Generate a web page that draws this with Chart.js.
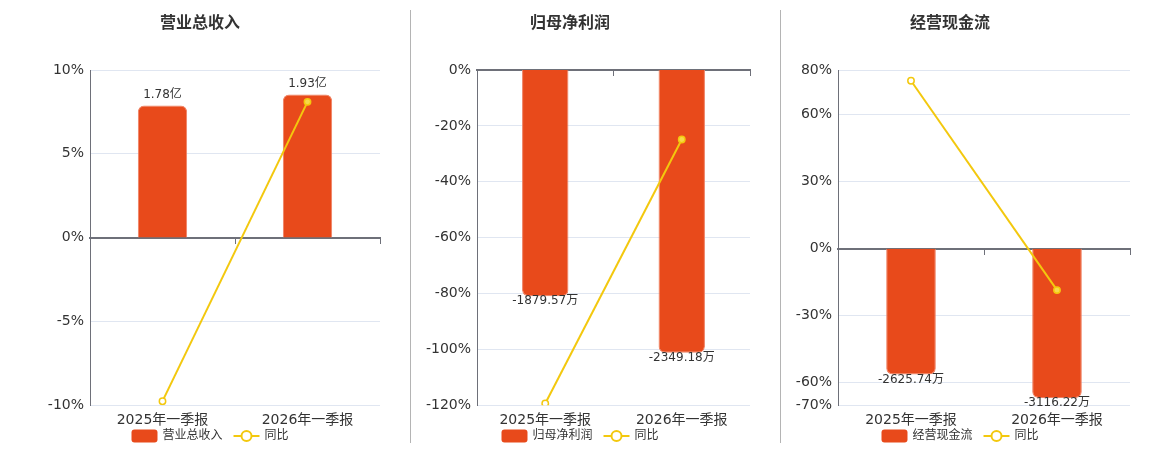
<!DOCTYPE html>
<html>
<head>
<meta charset="utf-8">
<script src="https://cdn.jsdelivr.net/npm/chart.js@4.4.1/dist/chart.umd.min.js"></script>
<style>
  body { margin: 0; background: #fff; width: 1160px; height: 450px; position: relative; overflow: hidden; }
  canvas { position: absolute; top: 0; }
  .sep { position: absolute; top: 10px; width: 1px; height: 433px; background: #b4b4b4; }
</style>
</head>
<body>
<canvas id="revenue" width="380" height="450" style="left:20px"></canvas>
<canvas id="profit" width="380" height="450" style="left:390px"></canvas>
<canvas id="cash" width="380" height="450" style="left:770px"></canvas>
<div class="sep" style="left:410px"></div>
<div class="sep" style="left:780px"></div>
<script>
// data
const periods = ['2025年一季报', '2026年一季报'];

const revenueValues = [1.78, 1.93];          // 亿
const revenueYoy = [-9.76, 8.1];              // %
const revenueTicks = [-10, -5, 0, 5, 10];

const profitValues = [-1879.57, -2349.18];   // 万
const profitYoy = [-119.4, -24.9];
const profitTicks = [-120, -100, -80, -60, -40, -20, 0];

const cashValues = [-2625.74, -3116.22];     // 万
const cashYoy = [75.2, -18.5];
const cashTicks = [80, 60, 30, 0, -30, -60, -70];

// hidden bar axis ranges, zero lined up with the % axis
const revenueBarRange = [-2.26, 2.26];
const profitBarRange = [-2786, 0];
const cashBarRange = [-3265, 3731];

const barColor = '#E84A1B';
const lineColor = '#F3C80E';
const textColor = '#333';
const axisColor = '#6E7079';
const gridColor = '#E0E6F1';
const fontFamily = '"DejaVu Sans", "Noto Sans CJK SC", sans-serif';

Chart.defaults.font.family = fontFamily;
Chart.defaults.color = textColor;

// value labels on the bars
const barLabels = {
  id: 'barLabels',
  afterDatasetsDraw(chart, args, opts) {
    const meta = chart.getDatasetMeta(0);
    const vals = chart.data.datasets[0].data;
    const ctx = chart.ctx;
    ctx.save();
    ctx.font = '12px ' + fontFamily;
    ctx.fillStyle = textColor;
    ctx.textAlign = 'center';
    ctx.textBaseline = 'middle';
    meta.data.forEach((bar, i) => {
      const txt = vals[i].toFixed(2) + opts.unit;
      if (vals[i] >= 0) ctx.fillText(txt, bar.x, bar.y - 11);
      else ctx.fillText(txt, bar.x, bar.y + 5);
    });
    ctx.restore();
  }
};

// legend under the axis: bar box + line with hollow dot
const bottomLegend = {
  id: 'bottomLegend',
  afterDraw(chart) {
    const ctx = chart.ctx;
    const names = chart.data.datasets.map(d => d.label);
    ctx.save();
    ctx.font = '12px ' + fontFamily;
    const w0 = ctx.measureText(names[0]).width;
    const w1 = ctx.measureText(names[1]).width;
    const total = 26 + 5 + w0 + 11 + 26 + 5 + w1;
    let x = chart.width / 2 - total / 2;
    const y = 436;
    ctx.fillStyle = barColor;
    ctx.beginPath();
    ctx.roundRect(x, y - 6.5, 26, 13, 3);
    ctx.fill();
    x += 31;
    ctx.fillStyle = textColor;
    ctx.textBaseline = 'middle';
    ctx.textAlign = 'left';
    ctx.fillText(names[0], x, y);
    x += w0 + 11;
    ctx.strokeStyle = lineColor;
    ctx.lineWidth = 2;
    ctx.beginPath();
    ctx.moveTo(x, y); ctx.lineTo(x + 26, y);
    ctx.stroke();
    ctx.beginPath();
    ctx.arc(x + 13, y, 5, 0, Math.PI * 2);
    ctx.fillStyle = '#fff';
    ctx.fill();
    ctx.stroke();
    x += 31;
    ctx.fillStyle = textColor;
    ctx.fillText(names[1], x, y);
    ctx.restore();
  }
};

function makePanel(id, title, values, yoy, ticks, barRange, unit, axisWidth) {
  const lo = Math.min(...ticks), hi = Math.max(...ticks);
  return new Chart(document.getElementById(id), {
    type: 'bar',
    data: {
      labels: periods,
      datasets: [
        {
          type: 'bar',
          label: title,
          data: values,
          yAxisID: 'y1',
          backgroundColor: barColor,
          borderColor: '#EF8062',
          borderWidth: 1,
          borderRadius: 6,
          borderSkipped: 'start',
          barPercentage: 0.34,
          categoryPercentage: 1,
          order: 1
        },
        {
          type: 'line',
          label: '同比',
          data: yoy,
          yAxisID: 'y',
          borderColor: lineColor,
          borderWidth: 2,
          pointRadius: 3.2,
          pointBorderWidth: 1.5,
          pointBorderColor: lineColor,
          pointBackgroundColor: ['#ffffff', '#F7D84A'],
          order: 0
        }
      ]
    },
    options: {
      responsive: false,
      animation: false,
      layout: { padding: { left: 0, right: 20, top: 0, bottom: 14 } },
      plugins: {
        tooltip: { enabled: false },
        legend: { display: false },
        title: {
          display: true,
          text: title,
          color: textColor,
          font: { size: 16, weight: 'bold' },
          padding: { top: 14, bottom: 36.8 }
        },
        barLabels: { unit: unit }
      },
      scales: {
        x: {
          type: 'category',
          grid: { display: false, drawTicks: false },
          border: { display: false },
          ticks: { color: textColor, font: { size: 14 }, padding: 7, maxRotation: 0 }
        },
        x0: {
          type: 'category',
          position: { y: 0 },
          offset: true,
          grid: { offset: true, drawOnChartArea: false, drawTicks: true, tickLength: 5, color: axisColor },
          border: { display: true, color: axisColor, width: 2 },
          ticks: { display: false }
        },
        y: {
          position: 'left',
          min: lo,
          max: hi,
          afterBuildTicks: s => { s.ticks = ticks.map(v => ({ value: v })); },
          ticks: { color: textColor, font: { size: 14 }, padding: 6, callback: v => v + '%' },
          grid: {
            color: c => c.tick && c.tick.value === 0 ? 'rgba(0,0,0,0)' : gridColor,
            drawTicks: false
          },
          border: { display: true, color: axisColor },
          afterFit: s => { s.width = axisWidth; }
        },
        y1: {
          display: false,
          min: barRange[0],
          max: barRange[1]
        }
      }
    },
    plugins: [barLabels, bottomLegend]
  });
}

makePanel('revenue', '营业总收入', revenueValues, revenueYoy, revenueTicks, revenueBarRange, '亿', 70);
makePanel('profit', '归母净利润', profitValues, profitYoy, profitTicks, profitBarRange, '万', 87);
makePanel('cash', '经营现金流', cashValues, cashYoy, cashTicks, cashBarRange, '万', 68);
</script>
</body>
</html>
